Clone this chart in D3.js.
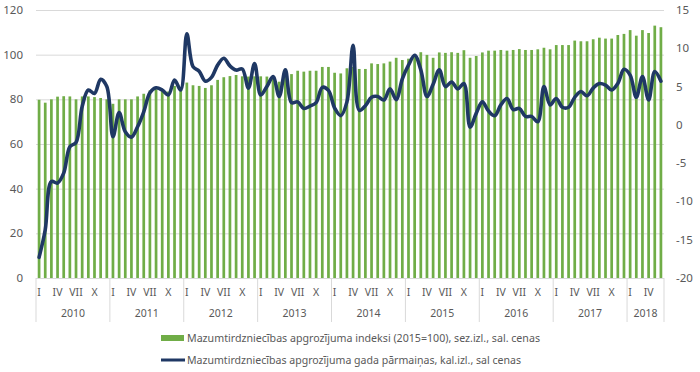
<!DOCTYPE html>
<html>
<head>
<meta charset="utf-8">
<script src="https://cdn.jsdelivr.net/npm/d3@7"></script>
<style>
body{margin:0;background:#fff;}
text{font-family:"Noto Sans",sans-serif;fill:#595959;}
</style>
</head>
<body>
<svg id="screen" width="700" height="372"></svg>
<script>
// monthly data, Jan 2010 - Jun 2018
var years=["2010","2011","2012","2013","2014","2015","2016","2017","2018"];
var monthNames=["I","","","IV","","","VII","","","X","",""];
var indexVals=[79.8,78.5,80,81.2,81.4,81.3,80,81.3,81.3,81,80.6,80,
    78,80,80,80,81.3,82.5,84,84.5,84,83.5,86,84.5,
    87.5,86.3,86,85.1,86.3,88.7,89.9,90.4,90.9,90.3,90.2,90.3,
    90.3,90.2,89.9,87.9,90.9,91.3,92.8,92.4,92.8,92.8,94.5,94.5,
    91.9,91.6,93.9,94.5,93.6,93.6,96.1,95.8,96.1,96.9,98.6,97.6,
    98.2,99.9,101.1,99.9,98.6,101,100.8,101.1,100.8,102,98.6,99.4,
    101,101.8,101.8,102.1,101.8,102.1,102.5,102.1,102.1,102.4,103.1,102.4,
    104.3,104.3,104.3,106.3,106,106,106.9,107.6,107.2,107.2,108.8,109.3,
    111,108.5,111,109.7,113,112.3];
var changeVals=[-17.3,-13.7,-7.4,-7.6,-6.3,-2.85,-2.3,2.4,4.55,4.1,5.95,5.0,
    -1.55,1.6,-0.9,-1.6,-0.25,1.7,4.2,4.85,4.55,3.9,5.85,4.55,
    11.9,7.6,7.0,5.7,6.2,7.8,8.7,7.7,7.15,7.3,4.8,8.0,
    3.9,5.0,6.3,3.7,7.2,2.9,3.0,2.15,2.45,2.9,4.9,4.5,
    2.2,1.2,3.0,10.4,1.9,2.5,3.6,3.7,3.25,4.7,3.3,6.0,
    7.8,9.1,7.2,3.7,5.3,7.2,5.0,5.6,4.7,5.4,-0.3,1.5,
    3.0,1.8,1.2,2.6,3.45,2.0,2.15,1.1,1.1,0.4,5.0,2.6,
    3.45,2.3,2.3,3.6,4.35,3.8,4.8,5.4,5.2,4.55,5.4,7.25,
    6.5,3.6,6.3,3.25,6.95,5.7];
var leftTicks=[0,20,40,60,80,100,120];
var rightTicks=[-20,-15,-10,-5,0,5,10,15];
var legendLabels=["Mazumtirdzniecības apgrozījuma indeksi (2015=100), sez.izl., sal. cenas",
    "Mazumtirdzniecības apgrozījuma gada pārmaiņas, kal.izl., sal cenas"];

var svg=d3.select("#screen");
var pLeft=36, pRight=664, pTop=10, pBottom=278;
var idx=d3.range(indexVals.length);

var x=d3.scaleBand().domain(idx).range([pLeft,pRight]).paddingInner(0.56).paddingOuter(0.28);
var step=(pRight-pLeft)/idx.length;
var yL=d3.scaleLinear().domain([0,120]).range([pBottom,pTop]);
var yR=d3.scaleLinear().domain([-20,15]).range([pBottom,pTop]);

// gridlines
svg.append("g").selectAll("line").data(leftTicks).enter().append("line")
    .attr("x1",pLeft).attr("x2",pRight)
    .attr("y1",function(d){return yL(d)+0.5;}).attr("y2",function(d){return yL(d)+0.5;})
    .attr("stroke","#d9d9d9").attr("stroke-width",1);

// left axis labels
svg.append("g").selectAll("text").data(leftTicks).enter().append("text")
    .attr("x",23).attr("y",function(d){return yL(d)+4;})
    .attr("text-anchor","end").style("font-size","11.5px")
    .text(function(d){return d;});

// right axis labels
svg.append("g").selectAll("text").data(rightTicks).enter().append("text")
    .attr("x",676).attr("y",function(d){return yR(d)+4;})
    .attr("text-anchor","start").style("font-size","11.5px")
    .text(function(d){return d;});

// bars
svg.append("g").selectAll("rect").data(idx).enter().append("rect")
    .attr("x",function(d){return x(d);})
    .attr("width",x.bandwidth())
    .attr("y",function(d){return yL(indexVals[d]);})
    .attr("height",function(d){return pBottom-yL(indexVals[d]);})
    .attr("fill","#70ad47");

// category axis: year separators
var sepIdx=[];
for(var i=0;i<idx.length;i+=12){sepIdx.push(i);}
sepIdx.push(idx.length);
svg.append("g").selectAll("line").data(sepIdx).enter().append("line")
    .attr("x1",function(d){return pLeft+d*step;}).attr("x2",function(d){return pLeft+d*step;})
    .attr("y1",pBottom).attr("y2",322)
    .attr("stroke","#d9d9d9").attr("stroke-width",1);

// month labels
svg.append("g").selectAll("text").data(idx.filter(function(d){return monthNames[d%12]!="";})).enter().append("text")
    .attr("x",function(d){return x(d)+x.bandwidth()/2;}).attr("y",296)
    .attr("text-anchor","middle").style("font-size","10.5px")
    .text(function(d){return monthNames[d%12];});

// year labels
svg.append("g").selectAll("text").data(years).enter().append("text")
    .attr("x",function(d,i){
        var a=pLeft+i*12*step, b=Math.min(pLeft+(i+1)*12*step,pRight);
        return (a+b)/2;})
    .attr("y",317).attr("text-anchor","middle").style("font-size","10.5px")
    .text(function(d){return d;});

// line
var line=d3.line()
    .x(function(d){return x(d)+x.bandwidth()/2;})
    .y(function(d){return yR(changeVals[d]);})
    .curve(d3.curveCatmullRom.alpha(0.5));
svg.append("path").datum(idx).attr("d",line)
    .attr("fill","none").attr("stroke","#1f3864").attr("stroke-width",3.6)
    .attr("stroke-linejoin","round").attr("stroke-linecap","round");

// legend
svg.append("rect").attr("x",161).attr("y",335).attr("width",23).attr("height",6).attr("fill","#70ad47");
svg.append("line").attr("x1",161).attr("x2",185).attr("y1",360).attr("y2",360)
    .attr("stroke","#1f3864").attr("stroke-width",3);
svg.append("g").selectAll("text").data(legendLabels).enter().append("text")
    .attr("x",187).attr("y",function(d,i){return 342+i*22;})
    .style("font-size","10.5px")
    .attr("textLength",function(d,i){return i==0?353:334;})
    .attr("lengthAdjust","spacingAndGlyphs")
    .text(function(d){return d;});
</script>
</body>
</html>
